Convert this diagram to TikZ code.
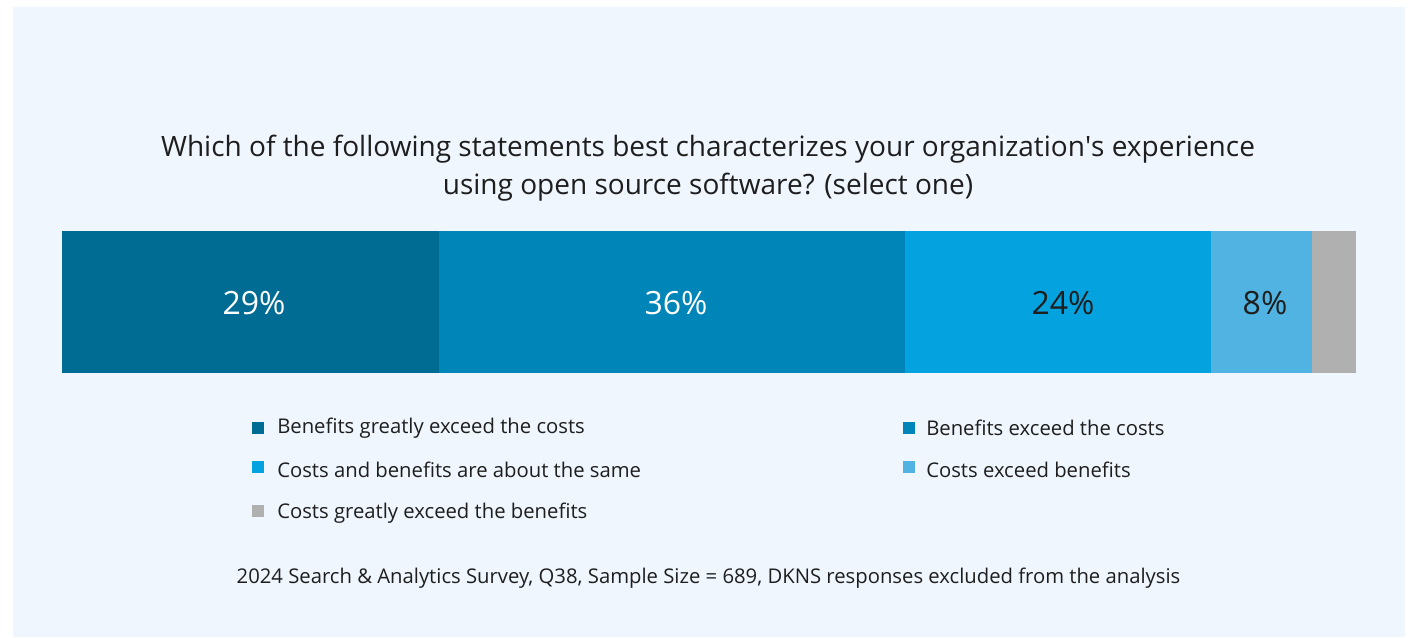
\documentclass[tikz,border=0pt]{standalone}
\usepackage{xcolor}
\usepackage{fontspec}
\setmainfont{Open Sans}
\usepackage{tikz}

\definecolor{bgblue}{RGB}{239,246,254}
\definecolor{segA}{RGB}{0,108,148}
\definecolor{segB}{RGB}{0,133,184}
\definecolor{segC}{RGB}{4,163,224}
\definecolor{segD}{RGB}{80,179,226}
\definecolor{segE}{RGB}{176,176,176}
\definecolor{txtdark}{RGB}{30,30,30}

\tikzset{
  pct/.style={font=\fontsize{24}{28}\selectfont},
  legtxt/.style={anchor=west, text=txtdark, font=\fontsize{15.2}{18}\selectfont, inner sep=0pt},
  legbox/.style={minimum size=9pt, inner sep=0pt}
}

\begin{document}
\begin{tikzpicture}[x=0.75pt,y=0.75pt,yscale=-1,xscale=1]
\useasboundingbox (0,0) rectangle (1409,637);

%Shape: Rectangle (background)
\fill[white] (0,0) rectangle (1409,637);
\fill[bgblue] (13,7) rectangle (1405,637);

% Text Node (title)
\node (title) at (708,168) [align=center, text=txtdark, font=\fontsize{21}{29}\selectfont] {Which of the following statements best characterizes your organization\textquotesingle s experience\\using open source software? (select one)};

%Shape: Rectangle (bar segments)
\fill[segA] (62,231) rectangle (439,373);
\fill[segB] (439,231) rectangle (905,373);
\fill[segC] (905,231) rectangle (1211,373);
\fill[segD] (1211,231) rectangle (1312,373);
\fill[segE] (1312,231) rectangle (1356,373);

% Text Node (values)
\node (pctA) at (254,303) [pct, text=white] {29\%};
\node (pctB) at (676,303) [pct, text=white] {36\%};
\node (pctC) at (1063,303) [pct, text=txtdark] {24\%};
\node (pctD) at (1265,303) [pct, text=txtdark] {8\%};

% Legend
\node (boxA) at (258,428) [legbox, fill=segA] {};
\node (legA) at (277,428) [legtxt] {Benefits greatly exceed the costs};
\node (boxB) at (908.5,428) [legbox, fill=segB] {};
\node (legB) at (926,428) [legtxt] {Benefits exceed the costs};
\node (boxC) at (258,467) [legbox, fill=segC] {};
\node (legC) at (277,470) [legtxt] {Costs and benefits are about the same};
\node (boxD) at (908.5,467) [legbox, fill=segD] {};
\node (legD) at (926,470) [legtxt] {Costs exceed benefits};
\node (boxE) at (258,510.5) [legbox, fill=segE] {};
\node (legE) at (277,513) [legtxt] {Costs greatly exceed the benefits};

% Text Node (source)
\node (source) at (708.5,578) [text=txtdark, font=\fontsize{15.2}{18}\selectfont] {2024 Search \& Analytics Survey, Q38, Sample Size = 689, DKNS responses excluded from the analysis};

\end{tikzpicture}
\end{document}
